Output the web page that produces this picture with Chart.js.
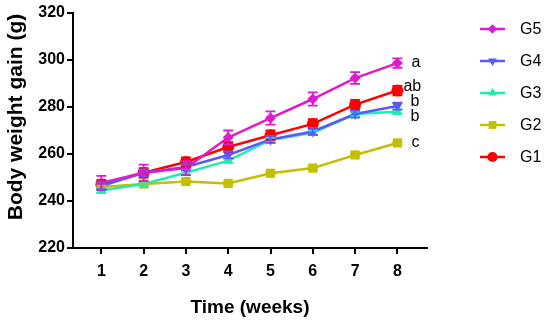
<!DOCTYPE html>
<html>
<head>
<meta charset="utf-8">
<script src="https://cdn.jsdelivr.net/npm/chart.js@4"></script>
<style>
  html, body { margin: 0; padding: 0; background: #fff; }
  #wrap { width: 550px; height: 323px; position: relative; }
</style>
</head>
<body>
<div id="wrap"><canvas id="bwChart" width="550" height="323"></canvas></div>
<script>
// --- data ---
const weeks = [1, 2, 3, 4, 5, 6, 7, 8];
const groupNames = ['G5', 'G4', 'G3', 'G2', 'G1'];

const g5 = [247.7, 252.0, 254.0, 267.0, 275.3, 283.4, 292.3, 298.7];
const g4 = [246.4, 252.0, 254.5, 259.6, 266.2, 269.6, 277.0, 280.4];
const g3 = [244.5, 247.2, 252.0, 257.2, 266.0, 269.0, 277.0, 278.0];
const g2 = [246.0, 247.2, 248.3, 247.5, 251.8, 254.0, 259.6, 264.7];
const g1 = [247.0, 252.0, 256.6, 263.0, 268.0, 272.8, 281.0, 287.0];

const g5Err = [3.0, 3.5, 3.0, 3.0, 2.8, 2.8, 2.5, 2.0];
const g4Err = [1.5, 1.5, 1.5, 1.5, 1.5, 1.5, 1.5, 1.5];
const g3Err = [1.0, 1.0, 1.0, 1.0, 1.0, 1.0, 1.0, 1.0];
const g2Err = [0.5, 0.5, 0.5, 0.5, 0.5, 0.5, 0.5, 0.5];
const g1Err = [2.0, 2.0, 2.0, 2.0, 2.0, 2.0, 2.0, 2.0];

const sigLetters = ['a', 'b', 'b', 'c', 'ab'];

const yTicks = [220, 240, 260, 280, 300, 320];
const yTitle = 'Body weight gain (g)';
const xTitle = 'Time (weeks)';

const FONT = '"Liberation Sans", Arial, Helvetica, sans-serif';

const series = [g5, g4, g3, g2, g1];
const errors = [g5Err, g4Err, g3Err, g2Err, g1Err];
const colors = ['#dd1ccc', '#5858ff', '#1eecb0', '#c4bf00', '#ff0000'];
const styles = ['rectRot', 'triangle', 'triangle', 'rect', 'circle'];
const rotations = [0, 180, 0, 0, 0];
const radii = [5.5, 6, 6, 6.5, 6];

const datasets = series.map((vals, i) => ({
    label: groupNames[i],
    data: vals.map((v, k) => ({ x: weeks[k], y: v })),
    borderColor: colors[i],
    backgroundColor: colors[i],
    borderWidth: 2.5,
    pointStyle: styles[i],
    pointRotation: rotations[i],
    pointRadius: radii[i],
    pointBorderWidth: 0,
    tension: 0,
    errs: errors[i]
}));

// error bars, letters, y title and side legend
const extrasPlugin = {
    id: 'extras',
    afterDatasetsDraw(chart) {
        const ctx = chart.ctx;
        const ys = chart.scales.y, xs = chart.scales.x;
        ctx.save();
        chart.data.datasets.slice().reverse().forEach(ds => {
            ctx.strokeStyle = ds.borderColor;
            ctx.lineWidth = 1.8;
            ds.data.forEach((p, k) => {
                const e = ds.errs[k];
                const px = xs.getPixelForValue(p.x);
                const top = ys.getPixelForValue(p.y + e);
                const bot = ys.getPixelForValue(p.y - e);
                ctx.beginPath();
                ctx.moveTo(px, top); ctx.lineTo(px, bot);
                ctx.moveTo(px - 5, top); ctx.lineTo(px + 5, top);
                ctx.moveTo(px - 5, bot); ctx.lineTo(px + 5, bot);
                ctx.stroke();
            });
        });

        // significance letters beside week 8
        const dy = [0, -4, 5, 0, -4];
        const dx = [14, 13, 13, 14, 6];
        ctx.fillStyle = '#000';
        ctx.font = '16px ' + FONT;
        ctx.textBaseline = 'middle';
        ctx.textAlign = 'left';
        chart.data.datasets.forEach((ds, i) => {
            const last = ds.data[ds.data.length - 1];
            const px = xs.getPixelForValue(last.x);
            const py = ys.getPixelForValue(last.y);
            ctx.fillText(sigLetters[i], px + dx[i], py + dy[i]);
        });

        // legend on the right
        chart.data.datasets.forEach((ds, i) => {
            const y = 29 + i * 32;
            ctx.strokeStyle = ds.borderColor;
            ctx.lineWidth = 2.5;
            ctx.beginPath();
            ctx.moveTo(480, y); ctx.lineTo(505, y);
            ctx.stroke();
            ctx.fillStyle = ds.backgroundColor;
            Chart.helpers.drawPoint(ctx, {
                pointStyle: ds.pointStyle, rotation: ds.pointRotation,
                radius: ds.pointRadius * 0.85, borderWidth: 0
            }, 492.5, y);
            ctx.fillStyle = '#000';
            ctx.fillText(ds.label, 520, y + 1);
        });

        // y axis title (sits a little above the plot centre in the original)
        ctx.translate(16, 117);
        ctx.rotate(-Math.PI / 2);
        ctx.textAlign = 'center';
        ctx.font = 'bold 21px ' + FONT;
        ctx.fillText(yTitle, 0, 0);
        ctx.restore();
    }
};

new Chart(document.getElementById('bwChart').getContext('2d'), {
    type: 'line',
    data: { datasets: datasets },
    plugins: [extrasPlugin],
    options: {
        responsive: false,
        animation: false,
        layout: { padding: { top: 13, right: 123, left: 0, bottom: 0 } },
        plugins: { legend: { display: false }, tooltip: { enabled: false } },
        scales: {
            x: {
                type: 'linear',
                min: 0.33, max: 8.7,
                afterBuildTicks: s => { s.ticks = weeks.map(v => ({ value: v })); },
                grid: { display: true, drawOnChartArea: false, color: '#000', lineWidth: 2, tickLength: 6 },
                border: { color: '#000', width: 2 },
                ticks: { color: '#000', font: { family: FONT, size: 16, weight: 'bold' }, padding: 8 },
                title: { display: true, text: xTitle, color: '#000', font: { family: FONT, size: 19, weight: 'bold' }, padding: { top: 9 } },
                afterFit: s => { s.height = 75; }
            },
            y: {
                min: 220, max: 320,
                afterBuildTicks: s => { s.ticks = yTicks.map(v => ({ value: v })); },
                grid: { display: true, drawOnChartArea: false, color: '#000', lineWidth: 2, tickLength: 6 },
                border: { color: '#000', width: 2 },
                ticks: { color: '#000', font: { family: FONT, size: 16, weight: 'bold' }, padding: 2 },
                afterFit: s => { s.width = 73; }
            }
        }
    }
});
</script>
</body>
</html>
